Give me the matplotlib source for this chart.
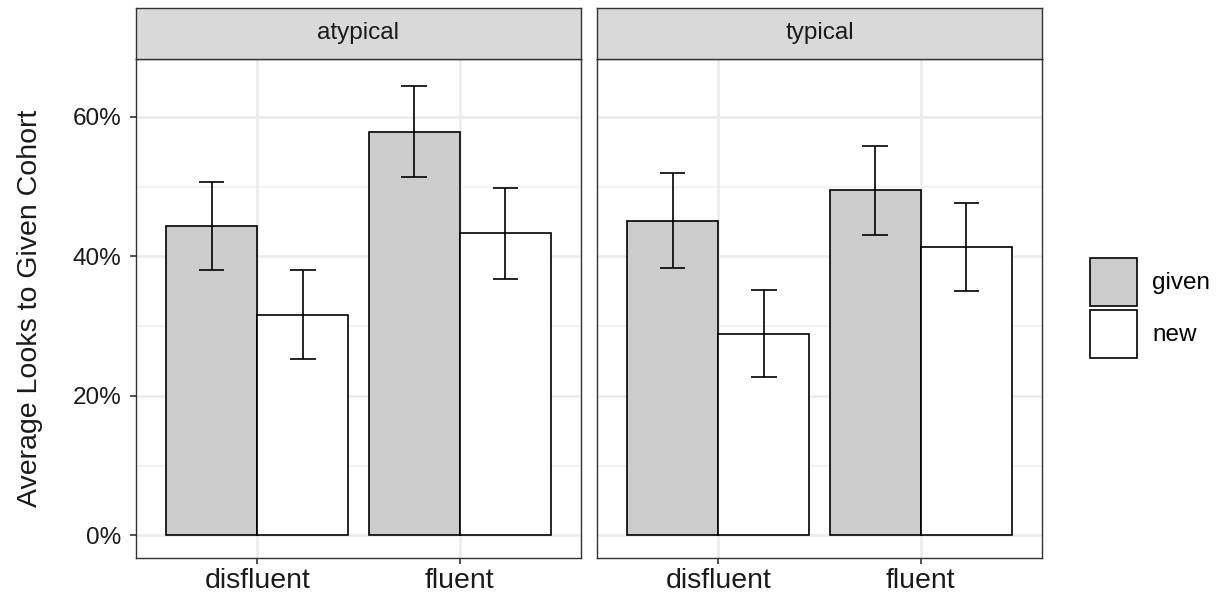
import matplotlib.pyplot as plt
from matplotlib.patches import Patch
import numpy as np

plt.rcParams['font.family'] = ['Liberation Sans', 'DejaVu Sans']

# --- data (percent) ---
panels     = ['atypical', 'typical']
fluency    = ['disfluent', 'fluent']
conditions = ['given', 'new']

given_mean = [[44.3, 57.9], [45.1, 49.5]]
given_lo   = [[38.0, 51.4], [38.3, 43.1]]
given_hi   = [[50.6, 64.4], [51.9, 55.8]]

new_mean   = [[31.6, 43.3], [28.9, 41.4]]
new_lo     = [[25.3, 36.7], [22.7, 35.0]]
new_hi     = [[38.1, 49.8], [35.2, 47.7]]

y_ticks = [0, 20, 40, 60]

# --- style ---
fill_cols = {'given': '#CCCCCC', 'new': 'white'}
border    = '#333333'
grid_col  = '#EBEBEB'
lw        = 1.2

W, H = 1222, 600
fig = plt.figure(figsize=(W / 100, H / 100), dpi=100)

panel_left   = [136, 597]
panel_w      = 445
panel_top    = 59
panel_bottom = 558
strip_top    = 8

x = np.arange(1, len(fluency) + 1)
dodge = 0.45
cap = 0.0625

for p, name in enumerate(panels):
    ax = fig.add_axes([panel_left[p] / W, 1 - panel_bottom / H,
                       panel_w / W, (panel_bottom - panel_top) / H])
    ax.set_xlim(0.4, 2.6)
    ax.set_ylim(-3.25, 68.3)

    # grid
    ax.set_yticks(y_ticks)
    ax.set_yticks([10, 30, 50], minor=True)
    ax.set_xticks(x)
    ax.grid(True, which='major', color=grid_col, linewidth=1.8, zorder=0)
    ax.grid(True, which='minor', axis='y', color='#F0F0F0', linewidth=1.2, zorder=0)
    ax.set_axisbelow(True)

    for c, cond in enumerate(conditions):
        means = given_mean[p] if cond == 'given' else new_mean[p]
        lo = given_lo[p] if cond == 'given' else new_lo[p]
        hi = given_hi[p] if cond == 'given' else new_hi[p]
        xs = x + (c - 0.5) * dodge
        ax.bar(xs, means, width=dodge, color=fill_cols[cond],
               edgecolor='black', linewidth=lw, zorder=2)
        ax.vlines(xs, lo, hi, color='black', linewidth=lw, zorder=3)
        ax.hlines(lo, xs - cap, xs + cap, color='black', linewidth=lw, zorder=3)
        ax.hlines(hi, xs - cap, xs + cap, color='black', linewidth=lw, zorder=3)

    for s in ax.spines.values():
        s.set_color(border)
        s.set_linewidth(1.0)

    ax.set_xticklabels(fluency, fontsize=20.5, color='#1A1A1A')
    ax.tick_params(axis='x', which='major', length=4.5, width=1.2,
                   color=border, pad=3)
    ax.tick_params(axis='y', which='minor', length=0)
    if p == 0:
        ax.set_yticklabels(['%d%%' % v for v in y_ticks], fontsize=17.5,
                           color='#1A1A1A')
        ax.tick_params(axis='y', which='major', length=4.5, width=1.2,
                       color=border, pad=6)
        ax.set_ylabel('Average Looks to Given Cohort', fontsize=20.5,
                      color='#1A1A1A', labelpad=21)
    else:
        ax.set_yticklabels([])
        ax.tick_params(axis='y', which='major', length=0)

    # facet strip
    sax = fig.add_axes([panel_left[p] / W, 1 - panel_top / H,
                        panel_w / W, (panel_top - strip_top) / H])
    sax.set_facecolor('#D9D9D9')
    sax.set_xticks([])
    sax.set_yticks([])
    for s in sax.spines.values():
        s.set_color(border)
        s.set_linewidth(1.0)
    sax.text(0.5, 0.5, name, ha='center', va='center', fontsize=17.5,
             color='#1A1A1A', transform=sax.transAxes)

# legend
handles = [Patch(facecolor=fill_cols[c], edgecolor='black', linewidth=lw)
           for c in conditions]
fig.legend(handles, conditions, loc='center left',
           bbox_to_anchor=(1090 / W, 1 - 308 / H), frameon=False,
           fontsize=17.5, handlelength=1.95, handleheight=2.7,
           labelspacing=0.15, handletextpad=0.6, borderpad=0, borderaxespad=0)

fig.savefig('out.png', dpi=100)
